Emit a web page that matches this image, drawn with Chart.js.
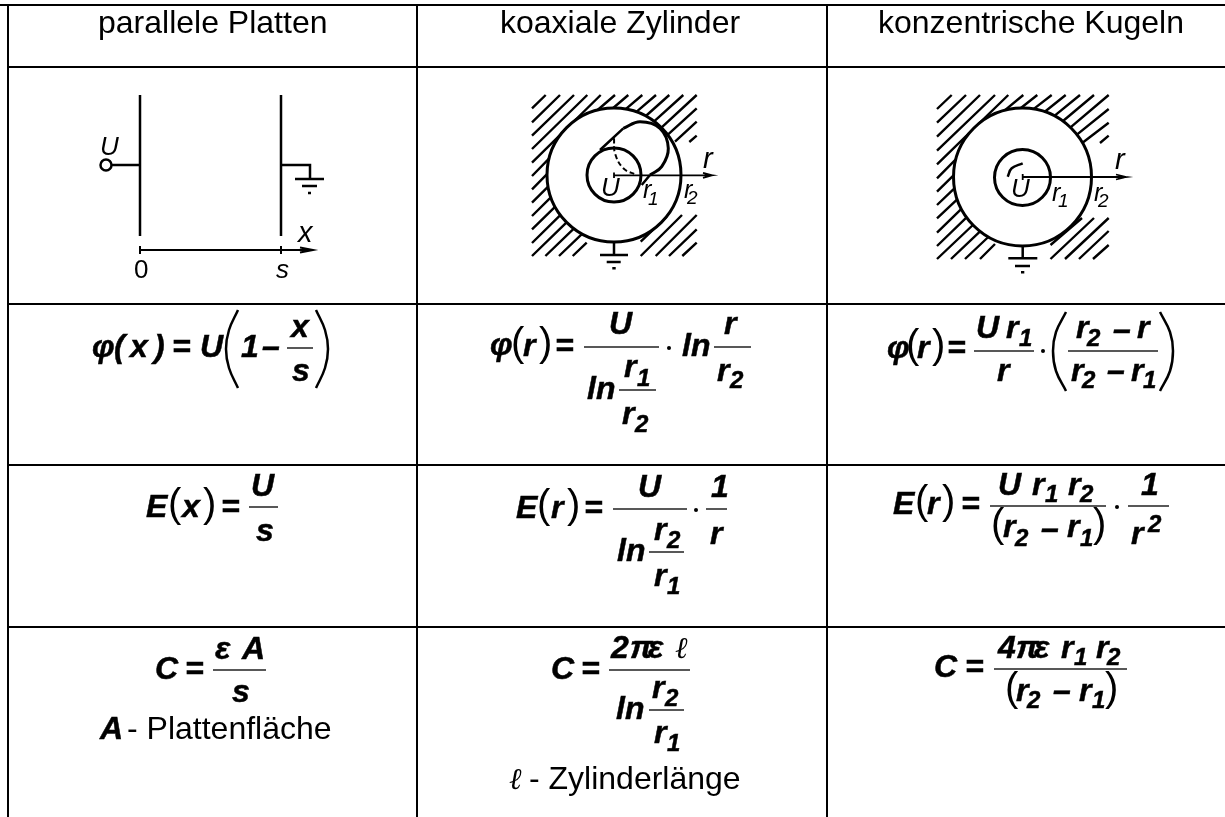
<!DOCTYPE html>
<html><head><meta charset="utf-8">
<style>html,body{margin:0;padding:0;background:#fff}canvas{display:block}</style>
<script src="https://cdn.jsdelivr.net/npm/chart.js@4"></script>
</head><body><canvas id="c" width="1225" height="817"></canvas>
<script>
/* ---- table rules ---- */
const gridRules=[[[0,5],[1225,5]],[[8,5],[8,817]],[[8,67],[1225,67]],[[8,304],[1225,304]],[[8,465],[1225,465]],[[8,627],[1225,627]],[[417,5],[417,817]],[[827,5],[827,817]]];
/* ---- plate diagram ---- */
const plateLines=[[[140,95],[140,236]],[[281,95],[281,236]],[[112,165],[140,165]],[[281,165],[310,165],[310,179]],[[295,179],[324,179]],[[302,186],[317,186]],[[308,193],[311,193]]];
const plateAxis=[[[140,250],[312,250]],[[140,246],[140,254]],[[281,246],[281,254]],[[300,247.5],[313,250],[300,252.5]],[[303,249],[313,250],[303,251]]];
const terminal=[[106,165,5.5]];
/* ---- cylinder diagram ---- */
const coaxHatch=[[[532,108.3],[545.7,95]],[[532,122.3],[560,95]],[[532,135.7],[574,95]],[[532,149],[587.3,95]],[[532,162.7],[600.7,95]],
[[532,176],[549,158.6]],[[597.6,110],[615,95]],[[532,189.3],[547,174.2]],[[613.2,108],[628.3,95]],[[532,202.7],[548.1,186.7]],[[625.7,109.1],[642.3,95]],
[[532,216],[550.8,197.4]],[[636.4,111.8],[656,95]],[[532,229.3],[555,206.8]],[[645.8,116],[669.3,95]],[[532,243],[560.3,215.1]],[[654.1,121.3],[683.3,95]],
[[532,256],[566.6,222.4]],[[661.4,127.6],[696.7,95]],[[545.4,256],[573.8,228.6]],[[667.6,134.8],[696.7,108.3]],[[559,256],[582.1,233.9]],[[675,141.7],[696.7,121.7]],
[[572.7,256],[586.7,242.7]],[[689.3,142],[696.7,135.7]],[[640.7,241.7],[666.7,216.7]],[[640.7,256],[682,215]],[[655.7,256],[696.7,215]],[[669,256],[696.7,229.3]],[[682.3,256],[696.7,242.7]]];
const coaxCircles=[[614,175,67],[614,175,27]];
const coaxLines=[[[600,150],[623.3,128.3]],[[650,175],[641.7,185]],[[614,242],[614,254]],[[600,255],[628,255]],[[606.7,262],[620.7,262]],[[612.3,268.3],[615.7,268.3]]];
const coaxCap=[[623.3,128.3],[640,121.7],[660,128.3],[668.3,148.3],[661.7,166.7],[650,175]];
const coaxDashed=[[614,138.3],[615,153.3],[623.3,168.3],[636.7,175]];
const coaxAxis=[[[614,175.3],[711.7,175.3]],[[614,172.5],[614,178]],[[703,172.8],[712,175.3],[703,177.8]],[[705,174.3],[712,175.3],[705,176.3]]];
/* ---- sphere diagram ---- */
const sphereHatch=[[[937,109],[951.7,95]],[[937,122.7],[966,95]],[[937,136.7],[980,95]],[[937,150.7],[995,95]],[[937,164.3],[1008.3,95]],
[[937,178.3],[955.8,159.4]],[[1005,110.2],[1023.3,95]],[[937,191.7],[953.5,175.4]],[[1020.9,108],[1037.3,95]],[[937,205],[954.4,188.3]],[[1033.8,108.9],[1051.7,95]],
[[937,218.3],[957.2,199.3]],[[1044.8,111.7],[1065.7,95]],[[937,232.7],[961.4,208.8]],[[1054.4,115.9],[1080,95]],[[937,246],[966.6,217.4]],[[1063,121],[1094,95]],
[[937,259],[972.9,225]],[[1070.5,127.4],[1108.7,95]],[[951,259],[980.1,231.4]],[[1076.9,134.6],[1108.7,109]],[[965,259],[988.3,237]],[[1082.5,142.8],[1108.7,122.7]],
[[980,259],[995,244]],[[1100,143],[1108.7,135.7]],[[1050.5,245],[1082,218]],[[1050.5,259],[1094,218]],[[1065,259],[1108.7,218]],[[1079,259],[1108.7,231]],[[1093,259],[1108.7,245]]];
const sphereCircles=[[1022.5,177,69],[1022.5,177.5,28]];
const sphereLines=[[[1022.7,245],[1022.7,258]],[[1008.3,258.3],[1037.3,258.3]],[[1015,266],[1030,266]],[[1021,272.3],[1024.3,272.3]]];
const sphereArc=[[1007.7,176.7],[1011.7,168.3],[1022.7,163.3]];
const sphereAxis=[[[1022.7,177],[1125.7,177]],[[1022.7,174],[1022.7,180]],[[1116,174.5],[1126,177],[1116,179.5]],[[1118,176],[1126,177],[1118,178]]];
/* ---- formula strokes ---- */
const fractionBars=[[[287,348],[313,348]],[[249,507],[278,507]],[[584,347],[659,347]],[[619,390],[656,390]],[[714,347],[751,347]],[[613,509],[687,509]],[[649,552],[684,552]],[[706,509],[727,509]],
[[974,351],[1034,351]],[[1068,351],[1158,351]],[[990,506],[1106,506]],[[1128,506],[1169,506]],[[213,670],[266,670]],[[609,670],[690,670]],[[649,710],[684,710]],[[994,669],[1127,669]]];
const tallParens=[[[238,310],[229,330],[226,349],[229,368],[238,388]],[[316,310],[325,330],[328,349],[325,368],[316,388]],[[1066,312],[1056,332],[1053,351],[1056,371],[1066,391]],[[1160,312],[1170,332],[1173,351],[1170,371],[1160,391]]];
const mathDots=[[669,348],[696,510],[1043,351],[1117,507]];
/* ---- text ---- */
const headers=[["parallele Platten",98,33,"h"],["koaxiale Zylinder",500,33,"h"],["konzentrische Kugeln",878,33,"h"]];
const plateLabels=[["U",100,155,"i"],["x",298,242,"j"],["0",134,278,"n"],["s",276,278,"i"]];
const coaxLabels=[["r",703,168,"j"],["U",601,196,"i"],["r",643,198,"l"],["1",648,205,"k"],["r",684,198,"l"],["2",687,204,"k"]];
const sphereLabels=[["r",1115,169,"j"],["U",1011,197,"i"],["r",1052,201,"l"],["1",1058,207,"k"],["r",1094,201,"l"],["2",1098,207,"k"]];
const potentialPlates=[["φ",92,357,"b"],["(",114,357,"b"],["x",130,357,"b"],[")",154,357,"b"],["=",172,357,"b"],["U",200,357,"b"],["1",241,357,"b"],["–",262,357,"b"],["x",291,337,"b"],["s",292,381,"b"]];
const potentialCoax=[["φ",490,355,"b"],["(",511,356,"p"],["r",523,356,"b"],[")",539,356,"p"],["=",555,356,"b"],["U",609,334,"b"],["ln",587,399,"b"],["r",624,377,"b"],["1",637,386,"s"],["r",622,424,"b"],["2",635,432,"s"],["ln",682,356,"b"],["r",724,334,"b"],["r",717,381,"b"],["2",730,388,"s"]];
const potentialSphere=[["φ",887,358,"b"],["(",906,358,"p"],["r",917,358,"b"],[")",932,358,"p"],["=",947,358,"b"],["U",976,338,"b"],["r",1006,338,"b"],["1",1019,346,"s"],["r",997,381,"b"],["r",1076,338,"b"],["2",1087,346,"s"],["–",1113,340,"b"],["r",1137,338,"b"],["r",1071,381,"b"],["2",1082,388,"s"],["–",1107,381,"b"],["r",1131,381,"b"],["1",1143,388,"s"]];
const fieldPlates=[["E",146,517,"b"],["(",168,517,"p"],["x",182,517,"b"],[")",203,517,"p"],["=",221,517,"b"],["U",251,496,"b"],["s",256,541,"b"]];
const fieldCoax=[["E",516,518,"b"],["(",537,518,"p"],["r",551,518,"b"],[")",567,518,"p"],["=",584,518,"b"],["U",638,497,"b"],["ln",617,561,"b"],["r",654,540,"b"],["2",667,548,"s"],["r",654,586,"b"],["1",667,594,"s"],["1",711,497,"b"],["r",710,544,"b"]];
const fieldSphere=[["E",893,514,"b"],["(",915,514,"p"],["r",927,514,"b"],[")",942,514,"p"],["=",961,514,"b"],["U",998,495,"b"],["r",1032,495,"b"],["1",1045,502,"s"],["r",1068,495,"b"],["2",1080,502,"s"],["(",991,537,"p",547],["r",1003,537,"b",547],["2",1015,546,"s",547],["–",1041,539,"b",547],["r",1067,537,"b",547],["1",1080,546,"s",547],[")",1093,537,"p",547],["1",1141,495,"b"],["r",1131,544,"b"],["2",1148,532,"s"]];
const capacityPlates=[["C",155,679,"b"],["=",185,679,"b"],["ε",215,659,"b"],["A",242,659,"b"],["s",232,702,"b"],["A",100,739,"b"],["- Plattenfläche",127,739,"h"]];
const capacityCoax=[["C",551,679,"b"],["=",581,679,"b"],["2",611,658,"b"],["π",630,658,"b"],["ε",648,658,"b"],["ℓ",675,658,"e"],["ln",616,719,"b"],["r",652,698,"b"],["2",665,706,"s"],["r",654,743,"b"],["1",667,751,"s"],["ℓ",509,789,"e"],["- Zylinderlänge",529,789,"h"]];
const capacitySphere=[["C",934,677,"b"],["=",965,677,"b"],["4",998,658,"b"],["π",1016,658,"b"],["ε",1034,658,"b"],["r",1061,658,"b"],["1",1074,665,"s"],["r",1096,658,"b"],["2",1107,665,"s"],["(",1005,701,"p",709],["r",1016,701,"b",709],["2",1027,708,"s",709],["–",1053,701,"b",709],["r",1079,701,"b",709],["1",1092,708,"s",709],[")",1105,701,"p",709]];
const textGroups=[headers,plateLabels,coaxLabels,sphereLabels,potentialPlates,potentialCoax,potentialSphere,fieldPlates,fieldCoax,fieldSphere,capacityPlates,capacityCoax,capacitySphere];

const SANS='"Liberation Sans"';
const fonts={h:`32px ${SANS}`,b:`italic bold 32px ${SANS}`,s:`italic bold 24px ${SANS}`,p:`40px ${SANS}`,
 i:`italic 26px ${SANS}`,j:`italic 29px ${SANS}`,l:`italic 25px ${SANS}`,k:`italic 19px ${SANS}`,n:`26px ${SANS}`,e:`italic 30px "Liberation Serif"`};

const pts=s=>s.flatMap((p,i)=>(i?[{x:NaN,y:NaN}]:[]).concat(p.map(([x,y])=>({x,y}))));
const line=(segs,w,order,extra={})=>Object.assign({type:'scatter',showLine:true,data:pts(segs),borderColor:'#000',borderWidth:w,pointRadius:0,spanGaps:false,clip:false,order},extra);
const rings=(list,w,order)=>({type:'scatter',showLine:false,data:list.map(([x,y])=>({x,y})),pointRadius:list.map(c=>c[2]),pointHoverRadius:list.map(c=>c[2]),pointBorderWidth:w,pointBorderColor:'#000',pointBackgroundColor:'#fff',clip:false,order});

const textPlugin={id:'formulaText',afterDatasetsDraw(ch){
 const {ctx,scales:{x,y}}=ch;
 ctx.save();ctx.fillStyle='#000';ctx.strokeStyle='#000';ctx.lineWidth=0.5;ctx.textBaseline='alphabetic';ctx.textAlign='left';
 for(const g of textGroups)for(const [t,tx,ty,st,clipY] of g){
  ctx.save();
  if(clipY){ctx.beginPath();ctx.rect(0,0,1225,y.getPixelForValue(clipY));ctx.clip();}
  ctx.font=fonts[st];const px=x.getPixelForValue(tx),py=y.getPixelForValue(ty);
  ctx.fillText(t,px,py);
  if(st==='b'||st==='s')ctx.strokeText(t,px,py);
  ctx.restore();
 }
 ctx.restore();
}};

new Chart(document.getElementById('c'),{
 type:'scatter',
 data:{datasets:[
  line(gridRules,2,1),
  line(plateLines,2.5,1),line(plateAxis,2,1),rings(terminal,2.5,1),
  line(coaxHatch,2.4,9),line(sphereHatch,2.4,9),
  rings(coaxCircles.slice(0,1),3,8),rings(sphereCircles.slice(0,1),3,8),
  rings(coaxCircles.slice(1),3,7),rings(sphereCircles.slice(1),3,7),
  line(coaxLines,2.5,3),line([coaxCap],3,3,{tension:0.4}),
  line([coaxDashed],2,3,{tension:0.4,borderDash:[5,3]}),
  line(coaxAxis,1.8,2),
  line(sphereLines,2.5,3),line([sphereArc],2.5,3,{tension:0.4}),line(sphereAxis,1.8,2),
  line(fractionBars,1.5,1,{borderColor:'#222'}),line(tallParens,2.5,1,{tension:0.4}),
  {type:'scatter',showLine:false,data:mathDots.map(([x,y])=>({x,y})),pointRadius:2,pointBackgroundColor:'#000',pointBorderWidth:0,clip:false,order:1}
 ]},
 options:{responsive:false,animation:false,events:[],
  layout:{padding:0,autoPadding:false},
  plugins:{legend:{display:false},tooltip:{enabled:false},title:{display:false}},
  scales:{x:{type:'linear',min:0,max:1225,display:false},y:{type:'linear',min:0,max:817,reverse:true,display:false}}},
 plugins:[textPlugin]
});
</script></body></html>
